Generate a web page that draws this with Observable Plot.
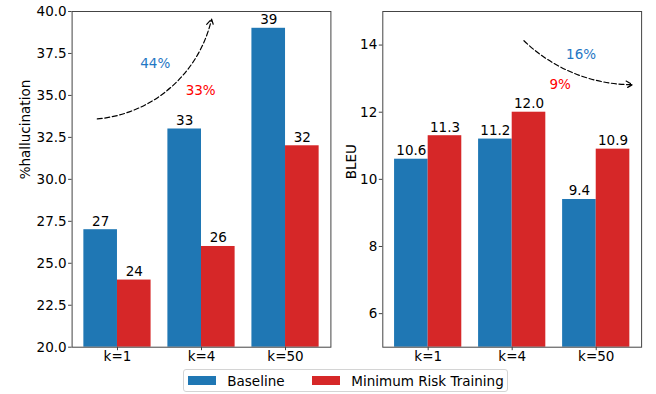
<!DOCTYPE html>
<html><head><meta charset="utf-8">
<script src="https://cdn.jsdelivr.net/npm/d3@7"></script>
<script src="https://cdn.jsdelivr.net/npm/@observablehq/plot@0.6"></script>
<style>
body{margin:0;background:#fff;font-family:"DejaVu Sans",sans-serif;position:relative;width:656px;height:394px;overflow:hidden;}
#row{display:flex;position:absolute;left:0;top:0;}
#legend{position:absolute;left:183px;top:369px;width:323px;height:21px;border:1px solid #d4d4d4;border-radius:3px;display:flex;align-items:center;font-size:13.5px;color:#000;background:#fff;overflow:hidden;}
.sw{flex:0 0 auto;width:27.4px;height:9.5px;margin-left:4.3px;margin-right:11.6px;}
.lt{flex:0 0 auto;margin-right:23.5px;white-space:nowrap;}
</style></head><body>
<div id="row"></div>
<div id="legend"></div>
<script>
const categories = ["k=1", "k=4", "k=50"];
const series = ["Baseline", "Minimum Risk Training"];
const seriesColors = ["#1f77b4", "#d62728"];
const hallBaseline = [27, 33, 39];
const hallMRT = [24, 26, 32];
const bleuBaseline = [10.6, 11.2, 9.4];
const bleuMRT = [11.3, 12.0, 10.9];
const hallTicks = [20, 22.5, 25, 27.5, 30, 32.5, 35, 37.5, 40];
const bleuTicks = [6, 8, 10, 12, 14];
const hallDomain = [20, 40];
const bleuDomain = [5, 15];
const hallNotes = [
  {x: 0.45, y: 36.9, text: "44%", series: "Baseline"},
  {x: 0.99, y: 35.3, text: "33%", series: "Minimum Risk Training"}
];
const bleuNotes = [
  {x: 1.82, y: 13.71, text: "16%", series: "Baseline"},
  {x: 1.57, y: 12.82, text: "9%", series: "Minimum Risk Training"}
];
const hallArrow = [{x1: -0.24, y1: 33.6, x2: 1.12, y2: 39.55}];
const bleuArrow = [{x1: 1.14, y1: 14.13, x2: 2.43, y2: 12.82}];
const noteColors = {"Baseline": "#1f77c4", "Minimum Risk Training": "#ff0000"};

const barWidth = 0.4;
const fs = 13.5;

function makeRows(base, mrt) {
  const rows = [];
  categories.forEach((c, i) => {
    rows.push({cat: c, i, series: series[0], value: base[i], x1: i - barWidth, x2: i});
    rows.push({cat: c, i, series: series[1], value: mrt[i], x1: i, x2: i + barWidth});
  });
  return rows;
}

function panel({rows, domain, ticks, tickFmt, valueFmt, label, labelDx, notes, arrow, bend, width, marginLeft, marginRight}) {
  return Plot.plot({
    width, height: 366,
    marginLeft, marginRight, marginTop: 11, marginBottom: 19.3,
    style: {fontFamily: "DejaVu Sans, sans-serif", fontSize: fs + "px", color: "#000", background: "transparent", overflow: "visible"},
    x: {domain: [-0.54, 2.54], axis: null},
    y: {domain, axis: null},
    color: {domain: series, range: seriesColors},
    marks: [
      Plot.rectY(rows, {x1: "x1", x2: "x2", y1: () => domain[0], y2: "value", fill: "series"}),
      Plot.text(rows, {x: d => (d.x1 + d.x2) / 2, y: "value", text: d => valueFmt(d.value), lineAnchor: "bottom", dy: -4, fill: "#000", fontSize: fs}),
      Plot.frame({stroke: "#444", strokeWidth: 1}),
      Plot.axisY({ticks, tickFormat: tickFmt, tickSize: 3.5, tickPadding: 2, label: null, stroke: "#444", fill: "#000", fontSize: fs}),
      Plot.axisX({ticks: categories.map((c, i) => i), tickFormat: i => categories[i], tickSize: 3.5, tickPadding: 0.5, label: null, stroke: "#444", fill: "#000", fontSize: fs}),
      Plot.text([label], {frameAnchor: "left", text: d => d, rotate: -90, dx: labelDx, fill: "#000", fontSize: fs}),
      Plot.text(notes, {filter: d => d.series === series[0], x: "x", y: "y", text: "text", fill: noteColors[series[0]], fontSize: fs}),
      Plot.text(notes, {filter: d => d.series === series[1], x: "x", y: "y", text: "text", fill: noteColors[series[1]], fontSize: fs}),
      Plot.arrow(arrow, {x1: "x1", y1: "y1", x2: "x2", y2: "y2", bend, stroke: "#000", strokeWidth: 1.2, strokeDasharray: "5,2.6", headLength: 9})
    ]
  });
}

const row = document.getElementById("row");
row.append(panel({
  rows: makeRows(hallBaseline, hallMRT), domain: hallDomain, ticks: hallTicks,
  tickFmt: d3.format(".1f"), valueFmt: d3.format("d"), label: "%hallucination", labelDx: -46,
  notes: hallNotes, arrow: hallArrow, bend: -36, width: 340, marginLeft: 71.6, marginRight: 9.6
}));
row.append(panel({
  rows: makeRows(bleuBaseline, bleuMRT), domain: bleuDomain, ticks: bleuTicks,
  tickFmt: d3.format("d"), valueFmt: d3.format(".1f"), label: "BLEU", labelDx: -31.5,
  notes: bleuNotes, arrow: bleuArrow, bend: -22, width: 316, marginLeft: 42.3, marginRight: 14.9
}));

const legend = document.getElementById("legend");
series.forEach((s, i) => {
  const sw = document.createElement("span");
  sw.className = "sw";
  sw.style.background = seriesColors[i];
  const t = document.createElement("span");
  t.className = "lt";
  t.textContent = s;
  legend.append(sw, t);
});
</script>
</body></html>
